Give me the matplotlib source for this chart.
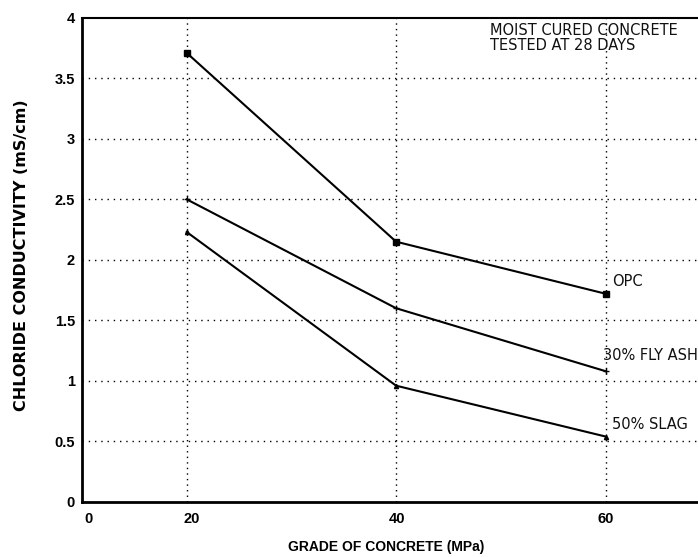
import numpy as np
import matplotlib
matplotlib.use("Agg")
import matplotlib.pyplot as plt

plt.rcParams["font.family"] = ["Liberation Sans", "DejaVu Sans"]

# Data
grade = [20, 40, 60]
opc = [3.71, 2.15, 1.72]
fly_ash = [2.50, 1.60, 1.08]
slag = [2.23, 0.96, 0.54]

xtick_pos = [10.6, 20.5, 40.1, 60]
xtick_lab = ["0", "20", "40", "60"]
ytick_pos = [0, 0.5, 1, 1.5, 2, 2.5, 3, 3.5, 4]
ytick_lab = ["0", "0.5", "1", "1.5", "2", "2.5", "3", "3.5", "4"]

fig = plt.figure(figsize=(6.98, 5.57), dpi=100)
ax = fig.add_axes([0.1175, 0.099, 0.9, 0.869])

# dotted grid
for g in [0.5, 1, 1.5, 2, 2.5, 3, 3.5]:
    ax.axhline(g, color="black", lw=1.0, ls=(0, (1, 3.5)), zorder=1)
for g in [20, 40, 60]:
    ax.axvline(g, color="black", lw=1.0, ls=(0, (1, 3)), zorder=1)

ax.plot(grade, opc, color="black", lw=1.5, marker="s", ms=5, zorder=3)
ax.plot(grade, fly_ash, color="black", lw=1.5, marker="+", ms=5, zorder=3)
ax.plot(grade, slag, color="black", lw=1.5, marker="^", ms=3, zorder=3)

note = dict(fontsize=10.5, family="DejaVu Sans", color="#111111")
ax.text(60.6, 1.82, "OPC", va="center", ha="left", **note)
ax.text(59.8, 1.21, "30% FLY ASH", va="center", ha="left", **note)
ax.text(60.6, 0.64, "50% SLAG", va="center", ha="left", **note)
ax.text(49, 3.96, "MOIST CURED CONCRETE\nTESTED AT 28 DAYS",
        va="top", ha="left", linespacing=1.0, **note)

ax.set_xlim(10, 70)
ax.set_ylim(0, 4)
ax.set_xticks(xtick_pos)
ax.set_xticklabels(xtick_lab, fontsize=10.5, fontweight="bold")
ax.set_yticks(ytick_pos)
ax.set_yticklabels(ytick_lab, fontsize=10.5, fontweight="bold")
ax.tick_params(length=0)
ax.tick_params(axis="y", pad=5)
ax.tick_params(axis="x", pad=7)

ax.spines["left"].set_linewidth(2)
ax.spines["bottom"].set_linewidth(2)
ax.spines["top"].set_linewidth(1.5)
ax.spines["right"].set_visible(False)

ax.set_xlabel("GRADE OF CONCRETE (MPa)", fontsize=10, fontweight="bold")
ax.xaxis.set_label_coords(0.484, -0.078)
ax.set_ylabel("CHLORIDE CONDUCTIVITY (mS/cm)", fontsize=11.5, fontweight="bold",
              family="DejaVu Sans")
ax.yaxis.set_label_coords(-0.085, 0.51)

fig.savefig("out.png", dpi=100)
